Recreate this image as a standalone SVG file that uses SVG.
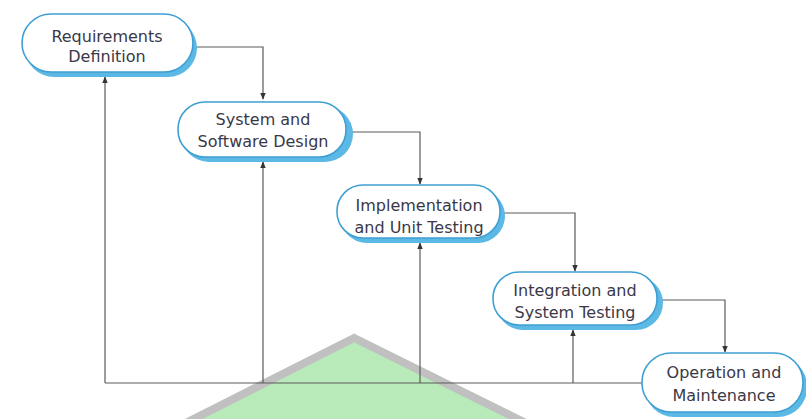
<svg xmlns="http://www.w3.org/2000/svg" width="806" height="419" viewBox="0 0 806 419">
<style>
.shadow{fill:#5cb8e4}
.box{fill:#ffffff;stroke:#3f9fd2;stroke-width:1.6}
.lbl{font-family:"DejaVu Sans","Liberation Sans",sans-serif;font-size:16px;fill:#3a3848;text-anchor:middle}
.conn{fill:none;stroke:#5a5a5a;stroke-width:1.2}
</style>
<defs>
<marker id="arr" viewBox="0 0 10 10" refX="9" refY="5" markerWidth="7" markerHeight="7" orient="auto" markerUnits="userSpaceOnUse">
<path d="M0,1 L10,5 L0,9 z" fill="#333"/>
</marker>
</defs>
<rect width="806" height="419" fill="#ffffff"/>
<polygon points="354,338 160,436 552,436" fill="#b9eab9" stroke="#c0c0c0" stroke-width="8" stroke-linejoin="miter"/>
<g id="connectors">
<path class="conn" d="M194,47 H263 V99" marker-end="url(#arr)"/>
<path class="conn" d="M347,132 H420 V184" marker-end="url(#arr)"/>
<path class="conn" d="M503,213 H575 V271" marker-end="url(#arr)"/>
<path class="conn" d="M660,300 H725 V352" marker-end="url(#arr)"/>
<path class="conn" d="M642,383 H105"/>
<path class="conn" d="M105,383 V77" marker-end="url(#arr)"/>
<path class="conn" d="M263,383 V162" marker-end="url(#arr)"/>
<path class="conn" d="M420,383 V243" marker-end="url(#arr)"/>
<path class="conn" d="M573,383 V330" marker-end="url(#arr)"/>
</g>
<g id="node-requirements">
<rect class="shadow" x="25" y="19" width="172" height="58" rx="29"/>
<rect class="box" x="22" y="14" width="171" height="58" rx="29"/>
<text class="lbl" x="107" y="42">Requirements</text>
<text class="lbl" x="107" y="62">Definition</text>
</g>
<g id="node-design">
<rect class="shadow" x="181" y="106" width="172" height="56" rx="28"/>
<rect class="box" x="178" y="102" width="168" height="55" rx="27"/>
<text class="lbl" x="263" y="125">System and</text>
<text class="lbl" x="263" y="147">Software Design</text>
</g>
<g id="node-implementation">
<rect class="shadow" x="340" y="189" width="165" height="54" rx="27"/>
<rect class="box" x="337" y="185" width="163" height="53" rx="26"/>
<text class="lbl" x="419" y="211">Implementation</text>
<text class="lbl" x="419" y="233">and Unit Testing</text>
</g>
<g id="node-integration">
<rect class="shadow" x="496" y="276" width="167" height="54" rx="27"/>
<rect class="box" x="493" y="272" width="164" height="53" rx="26"/>
<text class="lbl" x="575" y="296">Integration and</text>
<text class="lbl" x="575" y="318">System Testing</text>
</g>
<g id="node-operation">
<rect class="shadow" x="645" y="357" width="162" height="60" rx="29"/>
<rect class="box" x="642" y="353" width="161" height="59" rx="29"/>
<text class="lbl" x="724" y="378">Operation and</text>
<text class="lbl" x="724" y="401">Maintenance</text>
</g>
</svg>
